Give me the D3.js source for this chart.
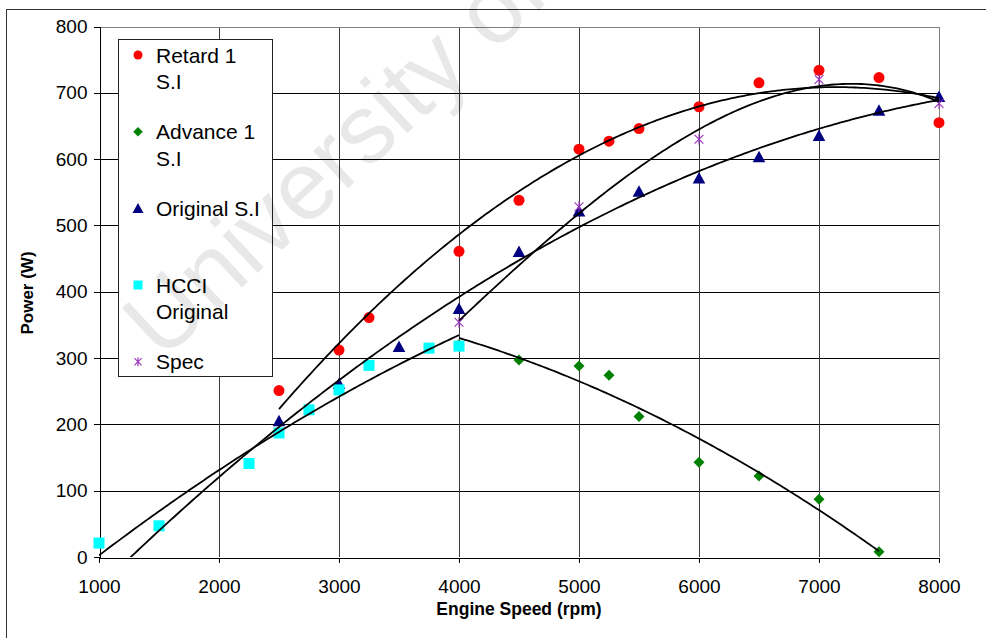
<!DOCTYPE html>
<html>
<head>
<meta charset="utf-8">
<script src="https://cdn.jsdelivr.net/npm/d3@7"></script>
<style>
  html, body { margin: 0; padding: 0; background: #fff; }
  svg { display: block; }
  text { font-family: "Liberation Sans", Arial, sans-serif; }
</style>
</head>
<body>
<svg id="chart" width="986" height="638"></svg>
<script>
// ---- data ----------------------------------------------------------
const rpmTicks   = [1000, 2000, 3000, 4000, 5000, 6000, 7000, 8000];
const powerTicks = [0, 100, 200, 300, 400, 500, 600, 700, 800];

const retardRpm   = [2500, 3000, 3250, 4000, 4500, 5000, 5250, 5500, 6000, 6500, 7000, 7500, 8000];
const retardPower = [251, 312, 361, 461, 538, 615, 627, 646, 679, 715, 734, 723, 655];

// the 4000 rpm point is shared with the HCCI run (its marker sits under the HCCI square)
const advanceRpm   = [4000, 4500, 5000, 5250, 5500, 6000, 6500, 7000, 7500];
const advancePower = [320, 297, 288, 274, 212, 143, 122, 87, 8];

const originalRpm   = [2500, 3000, 3500, 4000, 4500, 5000, 5500, 6000, 6500, 7000, 7500, 8000];
const originalPower = [206, 262, 318, 375, 461, 522, 552, 572, 604, 636, 674, 695];

const hcciRpm   = [1000, 1500, 2250, 2500, 2750, 3000, 3250, 3750, 4000];
const hcciPower = [21, 47, 141, 187, 222, 252, 289, 315, 318];

const specRpm   = [4000, 5000, 6000, 7000, 8000];
const specPower = [354, 528, 630, 720, 684];

const seriesNames = [["Retard 1", "S.I"], ["Advance 1", "S.I"], ["Original S.I"], ["HCCI", "Original"], ["Spec"]];

// polynomial trend lines: order and rpm span (with forecast) per series
const trendOrder = [2, 2, 2, 2, 3];
const trendSpan  = [[2500, 8000], [4000, 7500], [1000, 8000], [1000, 4000], [4000, 8000]];

// ---- setup ---------------------------------------------------------
const svg = d3.select("#chart");
const plot = { left: 99, right: 939, top: 26.5, bottom: 557 };

const x = d3.scaleLinear().domain([1000, 8000]).range([plot.left, plot.right]);
const y = d3.scaleLinear().domain([0, 800]).range([plot.bottom, plot.top]);

const colors  = ["#ff0000", "#008000", "#000080", "#00ffff", "#9933bb"];
const shapes  = ["circle", "diamond", "triangle", "square", "star"];
const rpmSets = [retardRpm, advanceRpm, originalRpm, hcciRpm, specRpm];
const pwrSets = [retardPower, advancePower, originalPower, hcciPower, specPower];

// outer chart frame
svg.append("rect")
  .attr("x", 6.5).attr("y", 9.5).attr("width", 1100).attr("height", 800)
  .attr("fill", "#fff").attr("stroke", "#333").attr("stroke-width", 1);

// gridlines
const grid = svg.append("g").attr("shape-rendering", "crispEdges");
grid.selectAll("line.h").data(powerTicks.filter(d => d > 0 && d < 800)).join("line")
  .attr("x1", plot.left).attr("x2", plot.right)
  .attr("y1", d => Math.round(y(d)) + 0.5).attr("y2", d => Math.round(y(d)) + 0.5)
  .attr("stroke", "#000");
grid.selectAll("line.v").data(rpmTicks.filter(d => d > 1000 && d < 8000)).join("line")
  .attr("y1", plot.top).attr("y2", plot.bottom)
  .attr("x1", d => Math.round(x(d)) + 0.5).attr("x2", d => Math.round(x(d)) + 0.5)
  .attr("stroke", "#3a3a3a");

// plot border (top and right)
svg.append("path")
  .attr("d", `M${plot.left},${Math.round(plot.top) + 0.5}H${Math.round(plot.right) + 0.5}V${plot.bottom}`)
  .attr("fill", "none").attr("stroke", "#808080").attr("shape-rendering", "crispEdges");

// axes
const yAxis = svg.append("g")
  .attr("transform", `translate(${plot.left + 0.5},0)`)
  .call(d3.axisLeft(y).tickValues(powerTicks).tickSize(6).tickPadding(6).tickFormat(d3.format("d")));
const xAxis = svg.append("g")
  .attr("transform", `translate(0,${plot.bottom + 0.5})`)
  .call(d3.axisBottom(x).tickValues(rpmTicks).tickSize(5).tickPadding(17).tickFormat(d3.format("d")));
[yAxis, xAxis].forEach(g => {
  g.attr("shape-rendering", "crispEdges");
  g.select(".domain").attr("stroke", "#000");
  g.selectAll(".tick line").attr("stroke", "#000");
  g.selectAll(".tick text").attr("fill", "#000").attr("font-size", 19)
    .attr("font-family", "'Liberation Sans', Arial, sans-serif");
});

// axis titles
svg.append("text")
  .attr("x", (plot.left + plot.right) / 2).attr("y", 615)
  .attr("text-anchor", "middle").attr("font-size", 17.5).attr("font-weight", "bold")
  .text("Engine Speed (rpm)");
svg.append("text")
  .attr("transform", "translate(33,293) rotate(-90)")
  .attr("text-anchor", "middle").attr("font-size", 17).attr("font-weight", "bold")
  .text("Power (W)");

// ---- markers -------------------------------------------------------
function markerPath(shape, s) {
  const h = s / 2;
  switch (shape) {
    case "circle":   return d3.symbol(d3.symbolCircle, Math.PI * h * h)();
    case "diamond":  return `M0,${-h}L${h},0L0,${h}L${-h},0Z`;
    case "triangle": return `M0,${-h}L${h * 1.1},${h}L${-h * 1.1},${h}Z`;
    case "square":   return `M${-h},${-h}H${h}V${h}H${-h}Z`;
    case "star":     return `M${-h * 0.8},${-h * 0.8}L${h * 0.8},${h * 0.8}M${h * 0.8},${-h * 0.8}L${-h * 0.8},${h * 0.8}M0,${-h}V${h}`;
  }
}
function drawMarker(g, shape, color, s) {
  const p = g.append("path").attr("d", markerPath(shape, s));
  if (shape === "star") p.attr("fill", "none").attr("stroke", color).attr("stroke-width", 1.1);
  else p.attr("fill", color);
}
const markerSize = [11, 11, 11.5, 11, 11];

const marks = svg.append("g");
rpmSets.forEach((rpms, i) => {
  rpms.forEach((r, k) => {
    const g = marks.append("g").attr("transform", `translate(${x(r)},${y(pwrSets[i][k])})`);
    drawMarker(g, shapes[i], colors[i], markerSize[i]);
  });
});

// ---- polynomial trend lines ----------------------------------------
function polyfit(xs, ys, order) {
  const n = order + 1;
  const A = Array.from({ length: n }, () => new Array(n + 1).fill(0));
  xs.forEach((xv, k) => {
    const u = xv / 1000;
    for (let i = 0; i < n; i++) {
      for (let j = 0; j < n; j++) A[i][j] += Math.pow(u, i + j);
      A[i][n] += ys[k] * Math.pow(u, i);
    }
  });
  for (let c = 0; c < n; c++) {
    let p = c;
    for (let r = c + 1; r < n; r++) if (Math.abs(A[r][c]) > Math.abs(A[p][c])) p = r;
    [A[c], A[p]] = [A[p], A[c]];
    for (let r = 0; r < n; r++) {
      if (r === c) continue;
      const f = A[r][c] / A[c][c];
      for (let j = c; j <= n; j++) A[r][j] -= f * A[c][j];
    }
  }
  return A.map((row, i) => row[n] / row[i]);
}

svg.append("clipPath").attr("id", "plotClip").append("rect")
  .attr("x", plot.left).attr("y", plot.top)
  .attr("width", plot.right - plot.left).attr("height", plot.bottom - plot.top);

const trendLine = d3.line().x(d => x(d[0])).y(d => y(d[1]));
const trends = svg.append("g").attr("clip-path", "url(#plotClip)");
rpmSets.forEach((rpms, i) => {
  const coef = polyfit(rpms, pwrSets[i], trendOrder[i]);
  const [a, b] = trendSpan[i];
  const pts = d3.range(a, b + 1, 25).map(r => {
    const u = r / 1000;
    return [r, coef.reduce((s, c, p) => s + c * Math.pow(u, p), 0)];
  });
  trends.append("path").attr("d", trendLine(pts))
    .attr("fill", "none").attr("stroke", "#000").attr("stroke-width", 1.8);
});

// ---- legend --------------------------------------------------------
const legend = svg.append("g");
legend.append("rect")
  .attr("x", 118.5).attr("y", 39.5).attr("width", 154).attr("height", 337)
  .attr("fill", "#fff").attr("stroke", "#222").attr("stroke-width", 1);
const legendRows = [[55, 81.7], [131.7, 158], [208], [285, 311.7], [361.7]];
const legendMarkSize = [9, 9.5, 10, 9, 9];
seriesNames.forEach((lines, i) => {
  const g = legend.append("g").attr("transform", `translate(138,${legendRows[i][0]})`);
  drawMarker(g, shapes[i], colors[i], legendMarkSize[i]);
  lines.forEach((t, j) => {
    legend.append("text")
      .attr("x", 156).attr("y", legendRows[i][j]).attr("dy", "0.36em")
      .attr("font-size", 21).attr("fill", "#000").text(t);
  });
});

// ---- watermark -----------------------------------------------------
svg.append("text")
  .attr("transform", "translate(162,362) rotate(-43)")
  .attr("font-size", 97).attr("fill", "#000").attr("fill-opacity", 0.09)
  .attr("pointer-events", "none")
  .text("University of Moratuwa");
</script>
</body>
</html>
